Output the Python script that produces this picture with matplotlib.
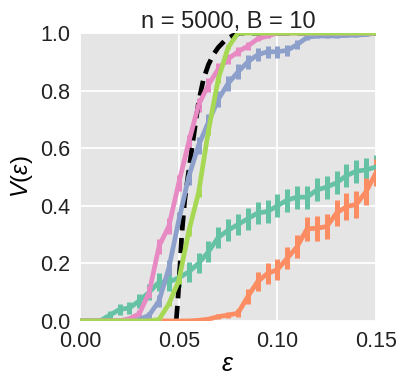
import numpy as np
import matplotlib
matplotlib.use("Agg")
import matplotlib.pyplot as plt

plt.rcParams['font.family'] = ['Liberation Sans', 'DejaVu Sans']
plt.rcParams['mathtext.fontset'] = 'custom'
plt.rcParams['mathtext.rm'] = 'Liberation Sans'
plt.rcParams['mathtext.it'] = 'Liberation Sans:italic'

# epsilon grid (0 .. 0.15, step 0.005)
eps = np.round(np.arange(0, 0.1501, 0.005), 3)

v_teal = [0, 0, 0, 0.02, 0.04, 0.045, 0.07, 0.10, 0.135, 0.135,
          0.15, 0.17, 0.20, 0.24, 0.29, 0.315, 0.335, 0.355, 0.375, 0.38,
          0.40, 0.42, 0.43, 0.43, 0.455, 0.465, 0.48, 0.505, 0.52, 0.525, 0.535]
e_teal = [0, 0, 0.007, 0.016, 0.02, 0.022, 0.025, 0.028, 0.031, 0.032,
          0.033, 0.034, 0.035, 0.036, 0.037, 0.038, 0.038, 0.039, 0.039, 0.04,
          0.04, 0.04, 0.04, 0.04, 0.04, 0.04, 0.04, 0.04, 0.04, 0.04, 0.04]

v_orange = [0, 0, 0, 0, 0, 0, 0, 0, 0, 0,
            0, 0, 0.002, 0.006, 0.015, 0.02, 0.027, 0.085, 0.137, 0.165,
            0.178, 0.218, 0.258, 0.32, 0.322, 0.328, 0.375, 0.397, 0.405, 0.45, 0.515]
e_orange = [0, 0, 0, 0, 0, 0, 0, 0, 0, 0,
            0, 0, 0.003, 0.005, 0.008, 0.01, 0.013, 0.025, 0.032, 0.035,
            0.036, 0.038, 0.04, 0.042, 0.044, 0.045, 0.046, 0.047, 0.048, 0.048, 0.048]

v_blue = [0, 0, 0, 0, 0, 0, 0.005, 0.02, 0.07, 0.185,
          0.35, 0.50, 0.61, 0.69, 0.77, 0.825, 0.865, 0.90, 0.925, 0.935,
          0.935, 0.94, 0.96, 0.985, 0.99, 0.99, 0.99, 0.992, 0.993, 0.995, 1.0]
e_blue = [0, 0, 0, 0, 0, 0, 0.005, 0.012, 0.02, 0.025,
          0.028, 0.029, 0.029, 0.029, 0.028, 0.027, 0.026, 0.024, 0.022, 0.021,
          0.021, 0.02, 0.017, 0.01, 0.008, 0.008, 0.008, 0.007, 0.007, 0.006, 0]

v_pink = [0, 0, 0, 0, 0, 0.008, 0.025, 0.10, 0.26, 0.33,
          0.48, 0.62, 0.75, 0.82, 0.875, 0.91, 0.935, 0.955, 0.98, 0.99,
          1.0, 1.0, 1.0, 1.0, 1.0, 1.0, 1.0, 1.0, 1.0, 1.0, 1.0]
e_pink = [0, 0, 0, 0, 0, 0.006, 0.012, 0.02, 0.026, 0.027,
          0.028, 0.027, 0.025, 0.023, 0.02, 0.018, 0.016, 0.013, 0.009, 0.006,
          0, 0, 0, 0, 0, 0, 0, 0, 0, 0, 0]

v_lime = [0, 0, 0, 0, 0, 0, 0, 0, 0.005, 0.06,
          0.14, 0.31, 0.445, 0.66, 0.84, 0.95, 1.0, 1.0, 1.0, 1.0,
          1.0, 1.0, 1.0, 1.0, 1.0, 1.0, 1.0, 1.0, 1.0, 1.0, 1.0]
e_lime = [0, 0, 0, 0, 0, 0, 0, 0, 0.003, 0.009,
          0.012, 0.014, 0.015, 0.014, 0.012, 0.007, 0, 0, 0, 0,
          0, 0, 0, 0, 0, 0, 0, 0, 0, 0, 0]

# theoretical curve (dashed)
th_eps = [0.0487, 0.0495, 0.0505, 0.0515, 0.053, 0.055, 0.0575, 0.060,
          0.0625, 0.065, 0.0675, 0.070, 0.0735, 0.077, 0.081, 0.15]
th_v = [0, 0.07, 0.18, 0.30, 0.42, 0.52, 0.64, 0.76,
        0.84, 0.89, 0.925, 0.95, 0.975, 0.99, 1.0, 1.0]

colors = ["#66c2a5", "#fc8d62", "#8da0cb", "#e78ac3", "#a6d854"]

fig = plt.figure(figsize=(4.07, 3.89), dpi=100)
ax = fig.add_axes([0.197, 0.175, 0.727, 0.74])
ax.set_facecolor("#E5E5E5")

series = [(v_teal, e_teal), (v_orange, e_orange), (v_blue, e_blue), (v_pink, e_pink)]
for (v, e), c in zip(series, colors[:4]):
    ax.errorbar(eps, v, yerr=e, color=c, lw=3.4, elinewidth=3.6, capsize=0)

ax.plot(th_eps, th_v, color="black", lw=3.4, ls=(0, (3.2, 1.6)))
ax.errorbar(eps, v_lime, yerr=e_lime, color=colors[4], lw=3.4, elinewidth=3.6, capsize=0)

ax.set_xlim(0, 0.15)
ax.set_ylim(0, 1.0)
ax.set_xticks([0, 0.05, 0.10, 0.15])
ax.set_xticklabels(["0.00", "0.05", "0.10", "0.15"])
ax.set_yticks([0, 0.2, 0.4, 0.6, 0.8, 1.0])
ax.set_yticklabels(["0.0", "0.2", "0.4", "0.6", "0.8", "1.0"])
ax.tick_params(length=0, labelsize=15.5, pad=7, colors="#222222")
ax.grid(True, color="white", lw=1.3)
ax.set_axisbelow(True)
for s in ax.spines.values():
    s.set_visible(False)

ax.set_title("n = 5000, B = 10", fontsize=17, pad=3, color="#222222")
ax.set_xlabel(r"$\varepsilon$", fontsize=18, labelpad=0)
ax.set_ylabel(r"$V(\varepsilon)$", fontsize=17, labelpad=4)

fig.savefig("out.png", dpi=100)
